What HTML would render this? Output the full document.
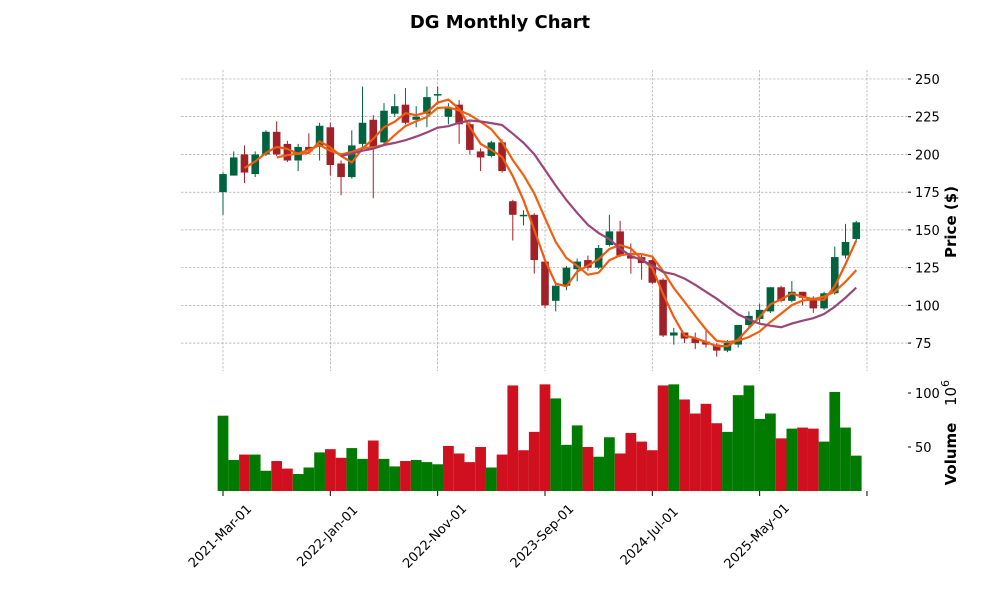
<!DOCTYPE html><html><head><style>body{margin:0;background:#fff}svg text{font-family:"DejaVu Sans","Liberation Sans",sans-serif}</style></head><body>
<svg id="s" width="1000" height="600" xmlns="http://www.w3.org/2000/svg">
<text x="500" y="28" text-anchor="middle" font-size="18" font-weight="bold">DG Monthly Chart</text>
<g id="g"></g>
<text transform="translate(956,222) rotate(-90)" text-anchor="middle" font-size="15" font-weight="bold">Price ($)</text>
<text transform="translate(956,454) rotate(-90)" text-anchor="middle" font-size="15" font-weight="bold">Volume</text>
<text transform="translate(956,393) rotate(-90)" text-anchor="middle" font-size="15">10<tspan dy="-7" font-size="11">6</tspan></text>
</svg>
<script>
const D=[[175,187,188,160],[186,198,202,186],[200,188,206,181],[187,200,202,185],[200,215,216,199],[215,200,222,199],[207,196,209,195],[196,205,207,189],[205,202,214,201],[205,219,221,196],[218,193,221,186],[194,185,196,173],[185,206,216,184],[207,221,245,205],[223,204,226,171],[208,229,234,206],[227,232,240,225],[233,221,244,220],[223,225,232,218],[227,238,245,218],[239,240,245,233],[225,231,234,220],[233,220,236,207],[220,203,222,200],[202,198,204,189],[199,208,209,198],[208,189,210,188],[169,160,170,143],[160,160,163,153],[160,130,161,121],[129,100,130,98],[103,113,114,96],[113,125,126,110],[124,129,131,116],[130,125,133,123],[125,138,140,124],[140,149,160,139],[149,133,156,132],[133,131,141,121],[132,128,134,117],[130,115,131,114],[117,80,118,79],[80,82,85,74],[82,78,82,75],[78,75,82,71],[76,74,83,72],[74,70,75,66],[70,75,77,69],[74,87,87,72],[87,93,96,85],[91,97,101,88],[96,112,112,95],[112,103,113,102],[103,109,116,102],[109,105,109,100],[105,98,106,95],[98,108,109,97],[108,132,139,107],[133,142,154,131],[144,155,156,143]];
const V=[79,38,43,43,28,37,30,25,31,45,48,40,49,39,56,39,32,37,38,36,34,51,44,36,50,31,43,107,47,64,108,95,52,70,50,41,59,44,63,55,47,107,108,94,81,90,72,64,98,107,76,81,58,67,68,67,55,101,68,42];
const VC="ggrggrrggg rrggrgg rgggrrrrgrrrrrgggrggrrrrrgrrrrgggggrgrrgggg".replace(/ /g,'');
const X=i=>223+i*10.733,Y=p=>79+(250-p)*1.509,VY=v=>501-v*1.08;
let h='';
[250,225,200,175,150,125,100,75].forEach(p=>{h+=`<line x1="181" x2="908" y1="${Y(p)}" y2="${Y(p)}" stroke="#999" stroke-width="0.6" stroke-dasharray="2.5,1.5"/><line x1="908" x2="911" y1="${Y(p)}" y2="${Y(p)}" stroke="#000"/><text x="915" y="${Y(p)+5}" font-size="13">${p}</text>`});
[0,10,20,30,40,50,60].forEach(i=>{h+=`<line x1="${X(i)}" x2="${X(i)}" y1="70" y2="371" stroke="#999" stroke-width="0.6" stroke-dasharray="2.5,1.5"/><line x1="${X(i)}" x2="${X(i)}" y1="491" y2="496" stroke="#000"/>`});
['2021-Mar-01','2022-Jan-01','2022-Nov-01','2023-Sep-01','2024-Jul-01','2025-May-01'].forEach((t,k)=>{const x=X(k*10);h+=`<text transform="translate(${x},${539}) rotate(-45)" text-anchor="middle" font-size="13">${t}</text>`});
[100,50].forEach(v=>{h+=`<line x1="908" x2="911" y1="${VY(v)}" y2="${VY(v)}" stroke="#000"/><text x="915" y="${VY(v)+5}" font-size="13">${v}</text>`});
V.forEach((v,i)=>{const c=VC[i]=='g'?'#007a00':'#d0101e';h+=`<rect x="${X(i)-5.37}" y="${VY(v)}" width="10.74" height="${491-VY(v)}" fill="${c}"/>`});
D.forEach(([o,c,hi,lo],i)=>{const col=c>=o?'#006340':'#a02128';const x=X(i);h+=`<line x1="${x}" x2="${x}" y1="${Y(hi)}" y2="${Y(lo)}" stroke="${col}" stroke-width="1"/><rect x="${x-3.8}" y="${Y(Math.max(o,c))}" width="7.6" height="${Math.max(1.5,Math.abs(Y(o)-Y(c)))}" fill="${col}"/>`});
function ma(n,col){let pts=[];for(let i=n-1;i<D.length;i++){let s=0;for(let j=i-n+1;j<=i;j++)s+=D[j][1];pts.push(X(i)+','+Y(s/n))}h+=`<polyline points="${pts.join(' ')}" fill="none" stroke="${col}" stroke-width="2.2"/>`}
ma(3,'#f05a10');ma(6,'#f06010');ma(12,'#9a4678');
document.getElementById('g').innerHTML=h;
</script></body></html>
